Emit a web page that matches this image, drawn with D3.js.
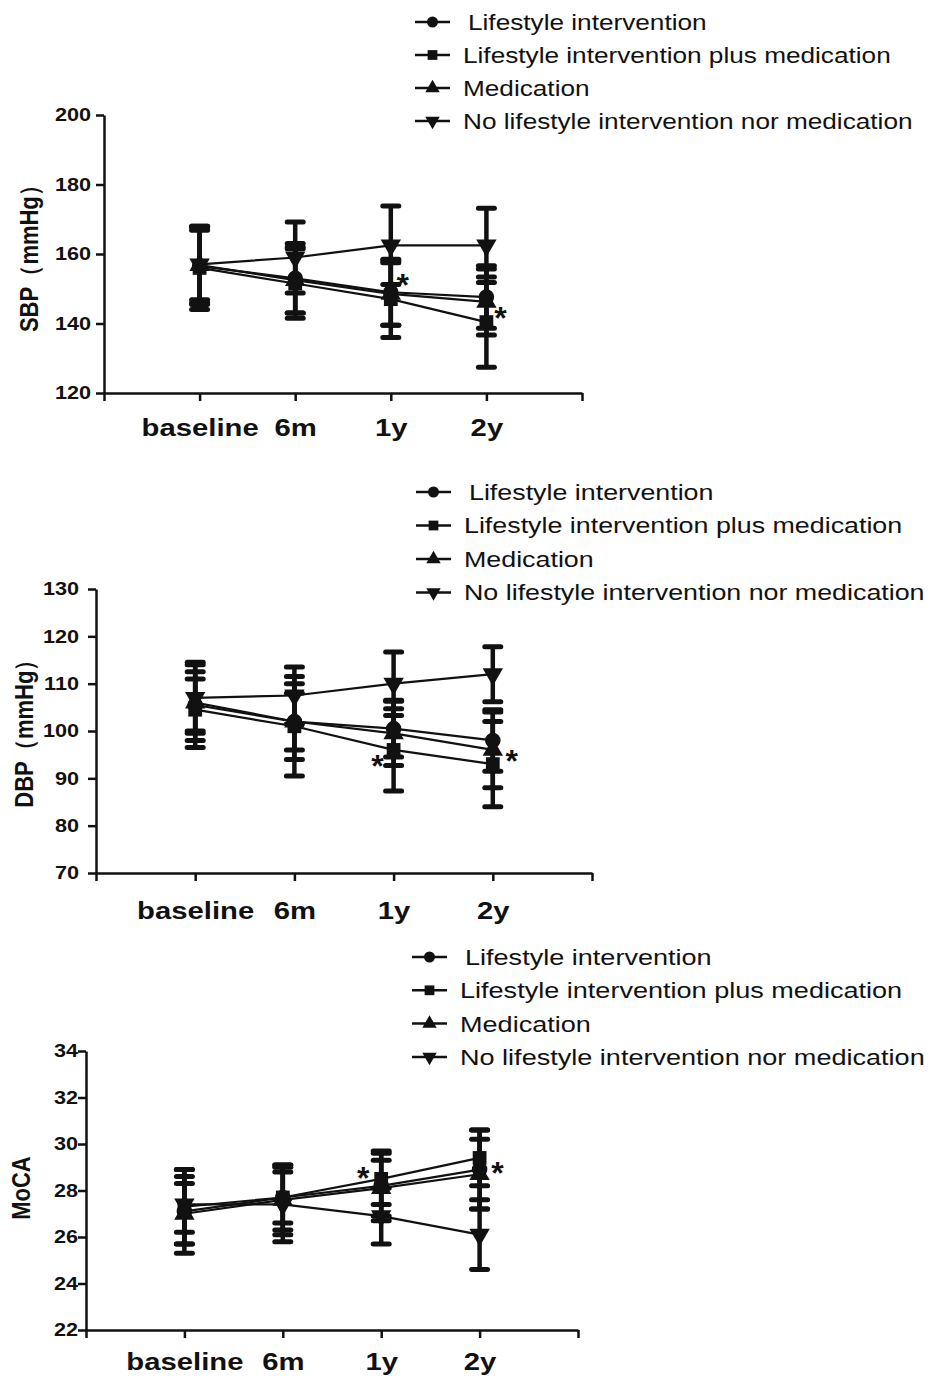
<!DOCTYPE html>
<html>
<head>
<meta charset="utf-8">
<script src="https://cdn.jsdelivr.net/npm/d3@7"></script>
<style>
body { margin: 0; background: #fff; }
svg { display: block; }
text { font-family: "Liberation Sans", Arial, sans-serif; fill: #111; }
</style>
</head>
<body>
<div id="chart"></div>
<script>
// Categories
const timepoints = ["baseline", "6m", "1y", "2y"];
const groups = [
    "Lifestyle intervention",
    "Lifestyle intervention plus medication",
    "Medication",
    "No lifestyle intervention nor medication"
];

// SBP (mmHg) - one row per group, one value per timepoint
const sbpMean = [
    [156.5, 153.0, 149.0, 147.6],
    [156.0, 151.5, 147.0, 140.4],
    [156.8, 152.5, 148.5, 146.2],
    [157.0, 159.0, 162.5, 162.5]
];
const sbpSD = [
    [11.0, 10.0, 9.5, 9.0],
    [12.0, 10.0, 11.0, 13.0],
    [10.0, 9.5, 9.0, 9.5],
    [11.0, 10.2, 11.3, 10.7]
];
const sbpTicks = [120, 140, 160, 180, 200];
const sbpStars = [["1y", 152.8], ["2y", 143.3]];

// DBP (mmHg)
const dbpMean = [
    [105.5, 102.0, 100.5, 98.0],
    [104.5, 101.0, 96.0, 93.0],
    [106.0, 102.0, 99.5, 96.0],
    [107.0, 107.5, 110.0, 112.0]
];
const dbpSD = [
    [9.0, 8.0, 6.0, 6.5],
    [6.5, 10.5, 8.7, 9.0],
    [6.5, 6.0, 6.8, 8.0],
    [7.0, 6.0, 6.7, 5.8]
];
const dbpTicks = [70, 80, 90, 100, 110, 120, 130];
const dbpStars = [["1y", 93.9], ["2y", 94.9]];

// MoCA score
const mocaMean = [
    [27.1, 27.7, 28.2, 28.9],
    [27.3, 27.7, 28.5, 29.4],
    [27.0, 27.6, 28.1, 28.7],
    [27.4, 27.4, 26.9, 26.1]
];
const mocaSD = [
    [1.8, 1.4, 1.5, 1.7],
    [1.6, 1.1, 1.1, 1.2],
    [1.3, 1.5, 1.2, 1.5],
    [1.2, 1.6, 1.2, 1.5]
];
const mocaTicks = [22, 24, 26, 28, 30, 32, 34];
const mocaStars = [["1y", 28.8], ["2y", 29.0]];

// Marker shapes per group (circle, square, triangle up, triangle down)
const shapes = [
    {type: d3.symbolCircle, size: 190, rot: 0},
    {type: d3.symbolSquare, size: 190, rot: 0},
    {type: d3.symbolTriangle, size: 180, rot: 0},
    {type: d3.symbolTriangle, size: 180, rot: 180}
];

// Panel layout
const panels = [
    {title: "SBP（mmHg）", mean: sbpMean, sd: sbpSD, ticks: sbpTicks, stars: sbpStars,
     left: 104, right: 582, top: 115, bottom: 393, titleX: 29, titleY: 253,
     tickGap: 13, xLabelDy: 43, starDx: [12, 14],
     legendX: 415, legendY: 22, legendStep: 33, legendStretch: 1.19},
    {title: "DBP（mmHg）", mean: dbpMean, sd: dbpSD, ticks: dbpTicks, stars: dbpStars,
     left: 96, right: 592, top: 589, bottom: 873, titleX: 24, titleY: 728,
     tickGap: 17, xLabelDy: 46, starDx: [-16, 19],
     legendX: 416, legendY: 492, legendStep: 33.5, legendStretch: 1.22},
    {title: "MoCA", mean: mocaMean, sd: mocaSD, ticks: mocaTicks, stars: mocaStars,
     left: 86, right: 578, top: 1051, bottom: 1330, titleX: 21, titleY: 1188,
     tickGap: 8, xLabelDy: 40, starDx: [-18, 18],
     legendX: 412, legendY: 957, legendStep: 33.3, legendStretch: 1.23}
];

const svg = d3.select("#chart")
    .append("svg")
    .attr("width", 933)
    .attr("height", 1376);

const symbolPath = (s, size) => d3.symbol().type(s.type).size(size || s.size)();

panels.forEach(p => {
    const g = svg.append("g");

    // Scales: categories sit at 1..4 on a 0..5 axis
    const x = d3.scaleLinear().domain([0, 5]).range([p.left, p.right]);
    const xc = t => x(timepoints.indexOf(t) + 1);
    const y = d3.scaleLinear()
        .domain([p.ticks[0], p.ticks[p.ticks.length - 1]])
        .range([p.bottom, p.top]);

    // Y axis
    const ya = g.append("g")
        .attr("transform", `translate(${p.left},0)`)
        .call(d3.axisLeft(y).tickValues(p.ticks).tickSize(8).tickSizeOuter(0)
            .tickPadding(p.tickGap / 1.17 - 8));
    ya.selectAll("text")
        .attr("transform", "scale(1.17,1)")
        .style("font-size", "18.5px").style("font-weight", "bold");

    // X axis
    const xa = g.append("g")
        .attr("transform", `translate(0,${p.bottom})`)
        .call(d3.axisBottom(x).tickValues([0, 1, 2, 3, 4, 5]).tickSize(8).tickSizeOuter(0)
            .tickPadding(p.xLabelDy - 8 - 17)
            .tickFormat(i => timepoints[i - 1] || ""));
    xa.selectAll("text")
        .attr("transform", "scale(1.22,1)")
        .style("font-size", "24px").style("font-weight", "bold");

    [ya, xa].forEach(a => {
        a.selectAll("path, line").attr("stroke", "#111").attr("stroke-width", 2.5);
    });

    // Y title
    g.append("text")
        .attr("transform", `translate(${p.titleX},${p.titleY}) rotate(-90) scale(1,1.15)`)
        .attr("text-anchor", "middle")
        .attr("dy", "0.36em")
        .style("font-size", "22px").style("font-weight", "bold")
        .text(p.title);

    // Lines
    const line = d3.line().x((d, i) => xc(timepoints[i])).y(d => y(d));
    p.mean.forEach(row => {
        g.append("path")
            .attr("d", line(row))
            .attr("fill", "none")
            .attr("stroke", "#111")
            .attr("stroke-width", 2.2);
    });

    // Error bars
    p.mean.forEach((row, gi) => {
        row.forEach((m, ti) => {
            const cx = xc(timepoints[ti]);
            const hi = y(m + p.sd[gi][ti]), lo = y(m - p.sd[gi][ti]);
            g.append("line")
                .attr("x1", cx).attr("x2", cx).attr("y1", hi).attr("y2", lo)
                .attr("stroke", "#111").attr("stroke-width", 4.5);
            [hi, lo].forEach(cy => {
                g.append("line")
                    .attr("x1", cx - 8).attr("x2", cx + 8).attr("y1", cy).attr("y2", cy)
                    .attr("stroke", "#111").attr("stroke-width", 5)
                    .attr("stroke-linecap", "round");
            });
        });
    });

    // Markers
    p.mean.forEach((row, gi) => {
        const s = shapes[gi];
        row.forEach((m, ti) => {
            g.append("path")
                .attr("d", symbolPath(s))
                .attr("transform", `translate(${xc(timepoints[ti])},${y(m)}) rotate(${s.rot})`)
                .attr("fill", "#111");
        });
    });

    // Significance stars
    p.stars.forEach((st, i) => {
        g.append("text")
            .attr("x", xc(st[0]) + p.starDx[i])
            .attr("y", y(st[1]) + 17)
            .attr("text-anchor", "middle")
            .style("font-size", "32px").style("font-weight", "bold")
            .text("*");
    });

    // Legend
    groups.forEach((name, gi) => {
        const ly = p.legendY + gi * p.legendStep;
        const s = shapes[gi];
        g.append("line")
            .attr("x1", p.legendX).attr("x2", p.legendX + 35)
            .attr("y1", ly).attr("y2", ly)
            .attr("stroke", "#111").attr("stroke-width", 2.5);
        g.append("path")
            .attr("d", symbolPath(s, s.size * 0.5))
            .attr("transform", `translate(${p.legendX + 17.5},${ly}) rotate(${s.rot})`)
            .attr("fill", "#111");
        g.append("text")
            .attr("transform", `translate(${p.legendX + (gi === 0 ? 53 : 48)},${ly}) scale(${p.legendStretch},1)`)
            .attr("dy", "0.36em")
            .style("font-size", "22px")
            .text(name);
    });
});
</script>
</body>
</html>
